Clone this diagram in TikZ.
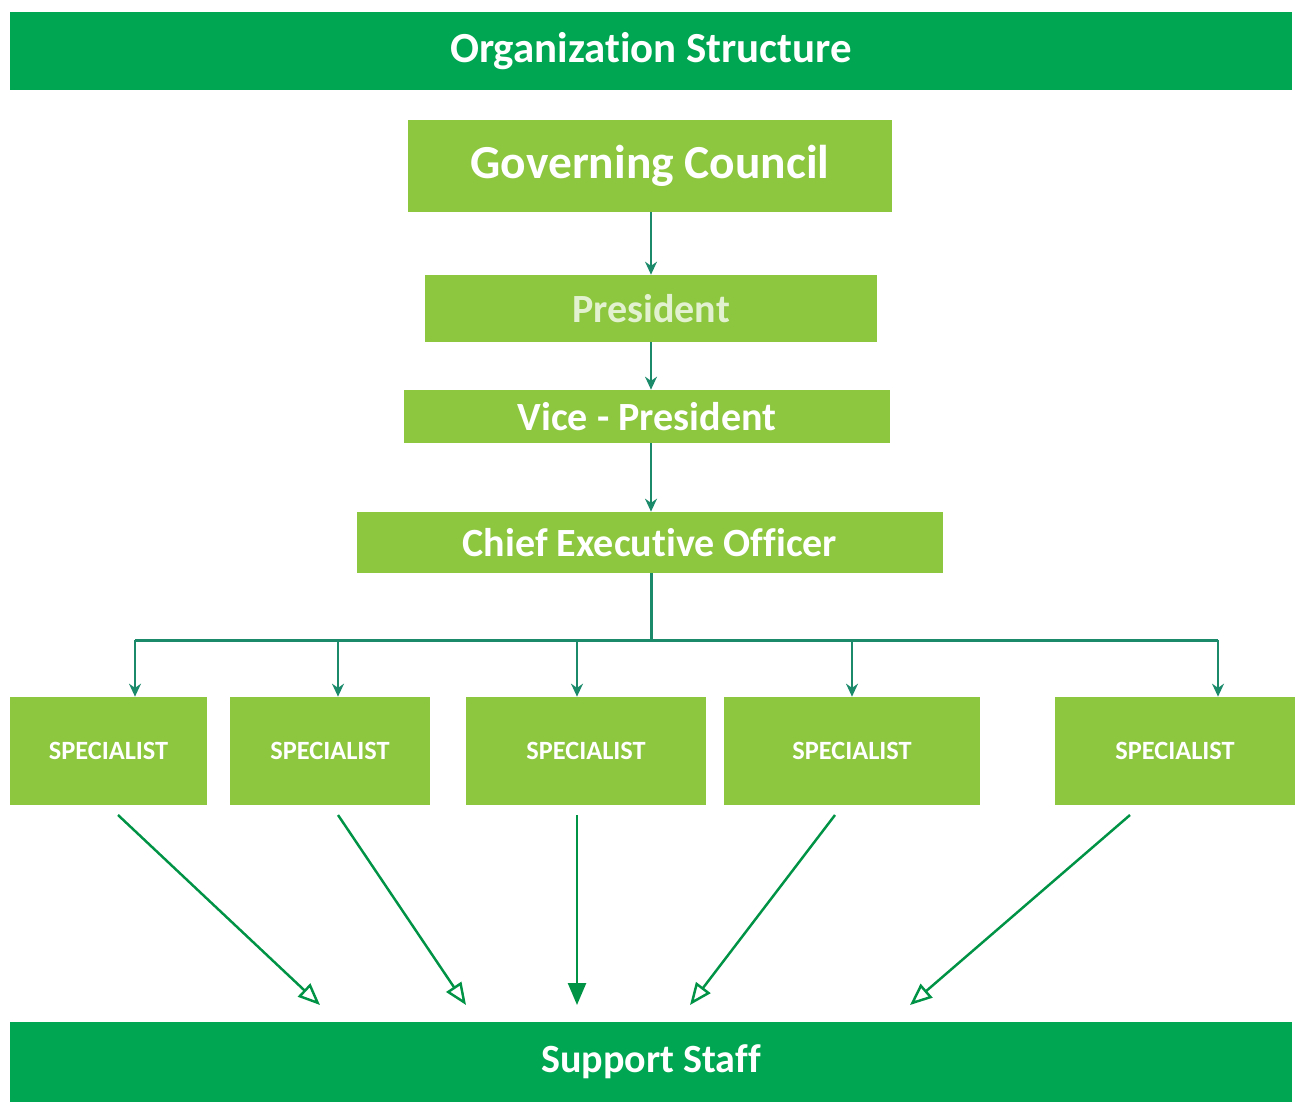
\documentclass[tikz,border=0pt]{standalone}
\usepackage{fontspec}
\setmainfont{Carlito}[Ligatures=NoCommon]
\usepackage{xcolor}
\usetikzlibrary{arrows.meta, positioning}
\definecolor{orgdark}{HTML}{00A651}
\definecolor{orglime}{HTML}{8DC63F}
\definecolor{orgline}{HTML}{009245}
\definecolor{orgtip}{HTML}{1B8A6B}
\tikzset{
  barnode/.style={fill=orgdark,text=white,font=\bfseries\fontsize{24.4}{28}\selectfont,inner sep=0pt,minimum width=25.64cm},
  lvlnode/.style={fill=orglime,text=white,font=\bfseries\fontsize{22.8}{26}\selectfont,inner sep=0pt},
  specnode/.style={lvlnode,font=\bfseries\fontsize{15}{18}\selectfont,minimum height=2.16cm},
  chainedge/.style={-{Stealth[length=2.6mm,width=2.4mm]},line width=0.9pt,black!65,color=orgtip},
  busedge/.style={line width=1.7pt,orgtip},
  staffedge/.style={-{Triangle[open,length=4.4mm,width=3.6mm]},line width=1.4pt,orgline},
  staffmid/.style={-{Triangle[length=4.4mm,width=3.6mm]},line width=1.4pt,orgline},
}
\begin{document}
\begin{tikzpicture}[x=0.02cm,y=-0.02cm]
  \useasboundingbox (0,0) rectangle (1300,1101);
  \node[barnode,minimum height=1.56cm] (title) at (651,51) {Organization Structure};
  \node[lvlnode,minimum width=9.7cm,minimum height=1.84cm,font=\bfseries\fontsize{27}{31}\selectfont] (gov) at (650,166) {Governing Council};
  \node[lvlnode,minimum width=9.04cm,minimum height=1.34cm,text=white!75!orglime] (pres) at (651,308.5) {President};
  \node[lvlnode,minimum width=9.74cm,minimum height=1.06cm] (vp) at (647,416.5) {Vice - President};
  \node[lvlnode,minimum width=11.72cm,minimum height=1.22cm] (ceo) at (650,542.5) {Chief Executive Officer};
  \node[specnode,minimum width=3.94cm] (spA) at (108.5,751) {SPECIALIST};
  \node[specnode,minimum width=4cm] (spB) at (330,751) {SPECIALIST};
  \node[specnode,minimum width=4.8cm] (spC) at (586,751) {SPECIALIST};
  \node[specnode,minimum width=5.12cm] (spD) at (852,751) {SPECIALIST};
  \node[specnode,minimum width=4.8cm] (spE) at (1175,751) {SPECIALIST};
  \node[barnode,minimum height=1.6cm,font=\bfseries\fontsize{22.8}{26}\selectfont] (staff) at (651,1062) {Support Staff};
  % bus
  \coordinate (bus) at (651,640);
  \coordinate (bA) at (135,640);
  \coordinate (bB) at (338,640);
  \coordinate (bC) at (577,640);
  \coordinate (bD) at (852,640);
  \coordinate (bE) at (1218,640);
  % staff arrow ends
  \coordinate (sA) at (118,815);
  \coordinate (sB) at (338,815);
  \coordinate (sC) at (577,815);
  \coordinate (sD) at (835,815);
  \coordinate (sE) at (1130,815);
  \coordinate (tA) at (320,1005);
  \coordinate (tB) at (466,1005);
  \coordinate (tC) at (577,1005);
  \coordinate (tD) at (690,1005);
  \coordinate (tE) at (910,1005);
  \draw[chainedge] (gov.south -| pres.north) -- (pres.north);
  \draw[chainedge] (pres.south) -- (pres.south |- vp.north);
  \draw[chainedge] (pres.south |- vp.south) -- (pres.south |- ceo.north);
  \draw[busedge] (pres.south |- ceo.south) -- (bus);
  \draw[busedge] (bA) -- (bE);
  \draw[chainedge] (bA) -- (bA |- spA.north);
  \draw[chainedge] (bB) -- (bB |- spB.north);
  \draw[chainedge] (bC) -- (bC |- spC.north);
  \draw[chainedge] (bD) -- (bD |- spD.north);
  \draw[chainedge] (bE) -- (bE |- spE.north);
  \draw[staffedge] (sA) -- (tA);
  \draw[staffedge] (sB) -- (tB);
  \draw[staffmid] (sC) -- (tC);
  \draw[staffedge] (sD) -- (tD);
  \draw[staffedge] (sE) -- (tE);
\end{tikzpicture}
\end{document}
